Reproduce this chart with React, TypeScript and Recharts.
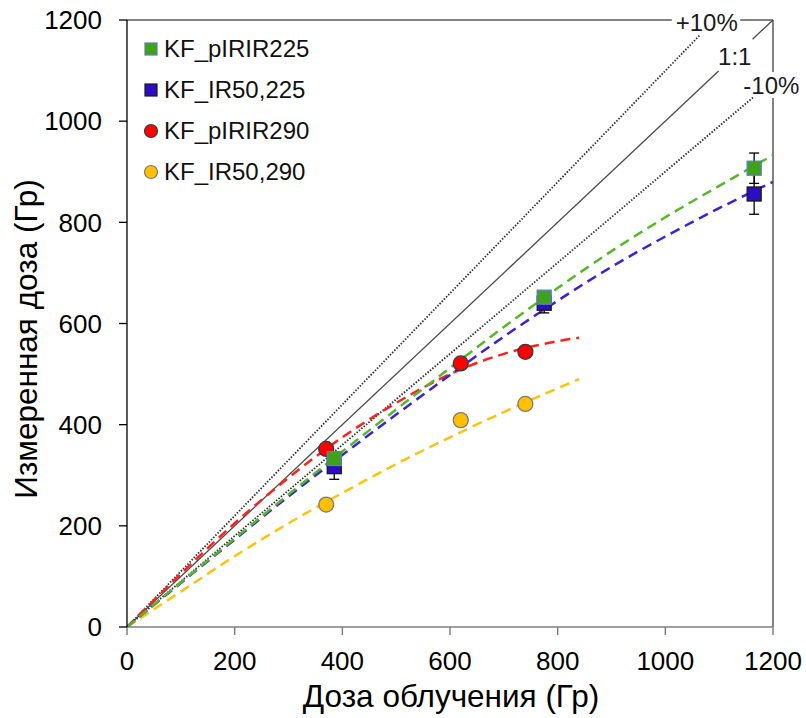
import {
  ComposedChart,
  Line,
  Scatter,
  XAxis,
  YAxis,
  ErrorBar,
  ReferenceLine,
  ReferenceDot,
  Legend,
} from "recharts";

const FONT = "'Liberation Sans', Arial, sans-serif";

const TICKS = [0, 200, 400, 600, 800, 1000, 1200];

// measured points
const dose225 = [385, 775, 1165];
const pIRIR225 = [333, 652, 907];
const pIRIR225Err = [8, 10, 30];
const IR50_225 = [317, 640, 856];
const IR50_225Err = [25, 19, 40];

const dose290 = [370, 620, 740];
const pIRIR290 = [352, 521, 544];
const IR50_290 = [242, 409, 441];

// fitted curves
const fitX225 = [0, 100, 200, 300, 400, 500, 600, 700, 800, 900, 1000, 1100, 1200];
const fitPIRIR225 = [0, 88, 175, 262, 347, 430, 512, 593, 670, 743, 810, 872, 933];
const fitIR50_225 = [0, 87, 173, 258, 340, 420, 498, 574, 645, 712, 772, 828, 880];

const fitX290 = [0, 100, 200, 300, 400, 500, 600, 700, 800, 840];
const fitPIRIR290 = [0, 105, 205, 295, 375, 443, 500, 540, 565, 572];
const fitIR50_290 = [0, 70, 140, 205, 265, 322, 375, 425, 472, 490];

const GREEN = "#3fa31a";
const BLUE = "#2e0cc4";
const RED = "#ff0000";
const YELLOW = "#ffc000";

const pts = (xs: number[], ys: number[], errs?: number[]) =>
  xs.map((x, i) => ({ x, y: ys[i], err: errs ? errs[i] : 0 }));

const legendItems = [
  { name: "KF_pIRIR225", color: GREEN, border: "#5b7fb5", shape: "square" },
  { name: "KF_IR50,225", color: BLUE, border: "#1a1a1a", shape: "square" },
  { name: "KF_pIRIR290", color: RED, border: "#3a3a3a", shape: "circle" },
  { name: "KF_IR50,290", color: YELLOW, border: "#7a7a7a", shape: "circle" },
];

const Square = (fill: string, stroke: string) => (p: any) => (
  <rect
    x={p.cx - 7}
    y={p.cy - 7}
    width={14}
    height={14}
    fill={fill}
    stroke={stroke}
    strokeWidth={1.3}
  />
);

const Circle = (fill: string, stroke: string) => (p: any) => (
  <circle cx={p.cx} cy={p.cy} r={7.5} fill={fill} stroke={stroke} strokeWidth={1.3} />
);

const LegendBox = () => (
  <div style={{ fontFamily: FONT, fontSize: 24, color: "#111" }}>
    {legendItems.map((it) => (
      <div key={it.name} style={{ display: "flex", alignItems: "center", height: 41 }}>
        <svg width={16} height={16} style={{ marginRight: 5 }}>
          {it.shape === "square" ? (
            <rect x={2} y={2} width={12} height={12} fill={it.color} stroke={it.border} strokeWidth={1.2} />
          ) : (
            <circle cx={8} cy={8} r={6.5} fill={it.color} stroke={it.border} strokeWidth={1.2} />
          )}
        </svg>
        <span>{it.name}</span>
      </div>
    ))}
  </div>
);

const textLabel = (txt: string) => (p: any) => (
  <text
    x={p.cx}
    y={p.cy}
    textAnchor="middle"
    dominantBaseline="central"
    fontFamily={FONT}
    fontSize={24}
    fill="#1a1a1a"
  >
    {txt}
  </text>
);

const dashed = { strokeWidth: 2.5, strokeDasharray: "10 6", dot: false, isAnimationActive: false, type: "monotone" as const, legendType: "none" as const };

export default function App() {
  return (
    <div style={{ position: "absolute", left: 0, top: 0, width: 806, height: 718, background: "#fff" }}>
      <ComposedChart
        width={806}
        height={718}
        margin={{ top: 20, right: 33, left: 47, bottom: 31 }}
      >
        <XAxis
          type="number"
          dataKey="x"
          domain={[0, 1200]}
          ticks={TICKS}
          height={60}
          stroke="#7f7f7f"
          strokeWidth={1.5}
          tickSize={8}
          tickMargin={17}
          tick={{ fill: "#000", fontSize: 26, fontFamily: FONT }}
          allowDataOverflow
          label={{
            content: () => (
              <text x={451} y={707} textAnchor="middle" fontFamily={FONT} fontSize={31.5} fill="#000">
                Доза облучения (Гр)
              </text>
            ),
          }}
        />
        <YAxis
          type="number"
          dataKey="y"
          domain={[0, 1200]}
          ticks={TICKS}
          width={80}
          stroke="#000"
          strokeWidth={1.3}
          tickSize={8}
          tickMargin={17}
          tick={{ fill: "#000", fontSize: 26, fontFamily: FONT }}
          allowDataOverflow
          label={{
            content: () => (
              <text
                x={37}
                y={339}
                transform="rotate(-90 37 339)"
                textAnchor="middle"
                fontFamily={FONT}
                fontSize={31.5}
                fill="#000"
              >
                Измеренная доза (Гр)
              </text>
            ),
          }}
        />

        {/* frame: top and right, broken for labels */}
        <ReferenceLine segment={[{ x: 0, y: 1200 }, { x: 1012, y: 1200 }]} stroke="#595959" strokeWidth={1.5} />
        <ReferenceLine segment={[{ x: 1139, y: 1200 }, { x: 1200, y: 1200 }]} stroke="#595959" strokeWidth={1.5} />
        <ReferenceLine segment={[{ x: 1200, y: 0 }, { x: 1200, y: 1046 }]} stroke="#595959" strokeWidth={1.5} />
        <ReferenceLine segment={[{ x: 1200, y: 1097 }, { x: 1200, y: 1200 }]} stroke="#595959" strokeWidth={1.5} />

        {/* ratio lines */}
        <ReferenceLine segment={[{ x: 0, y: 0 }, { x: 1064, y: 1170 }]} stroke="#333" strokeWidth={1.8} strokeDasharray="1.5 1.6" />
        <ReferenceLine segment={[{ x: 0, y: 0 }, { x: 1099, y: 1099 }]} stroke="#4a4a4a" strokeWidth={1.3} />
        <ReferenceLine segment={[{ x: 1162, y: 1162 }, { x: 1200, y: 1200 }]} stroke="#4a4a4a" strokeWidth={1.3} />
        <ReferenceLine segment={[{ x: 0, y: 0 }, { x: 1163, y: 1047 }]} stroke="#333" strokeWidth={1.8} strokeDasharray="1.5 1.6" />
        <ReferenceDot x={1077} y={1195} r={0} shape={textLabel("+10%")} />
        <ReferenceDot x={1129} y={1128} r={0} shape={textLabel("1:1")} />
        <ReferenceDot x={1197} y={1070} r={0} shape={textLabel("-10%")} />

        <Line data={pts(fitX290, fitIR50_290)} dataKey="y" stroke="#ffc20e" {...dashed} />
        <Line data={pts(fitX290, fitPIRIR290)} dataKey="y" stroke="#ff2020" {...dashed} />
        <Scatter data={pts(dose290, IR50_290)} dataKey="y" shape={Circle(YELLOW, "#7a7a7a")} isAnimationActive={false} legendType="none" />
        <Scatter data={pts(dose290, pIRIR290)} dataKey="y" shape={Circle(RED, "#3a3a3a")} isAnimationActive={false} legendType="none" />

        <Line data={pts(fitX225, fitIR50_225)} dataKey="y" stroke="#3b22d6" {...dashed} />
        <Line data={pts(fitX225, fitPIRIR225)} dataKey="y" stroke="#55b82a" {...dashed} />
        <Scatter data={pts(dose225, IR50_225, IR50_225Err)} dataKey="y" shape={Square(BLUE, "#1a1a1a")} isAnimationActive={false} legendType="none">
          <ErrorBar dataKey="err" direction="y" width={5} stroke="#000" strokeWidth={1.3} />
        </Scatter>
        <Scatter data={pts(dose225, pIRIR225, pIRIR225Err)} dataKey="y" shape={Square(GREEN, "#5b7fb5")} isAnimationActive={false} legendType="none">
          <ErrorBar dataKey="err" direction="y" width={5} stroke="#000" strokeWidth={1.3} />
        </Scatter>

        <Legend
          layout="vertical"
          align="center"
          verticalAlign="middle"
          content={() => <LegendBox />}
          wrapperStyle={{ left: 143, top: 28, width: 200, height: 170 }}
        />
      </ComposedChart>
    </div>
  );
}
